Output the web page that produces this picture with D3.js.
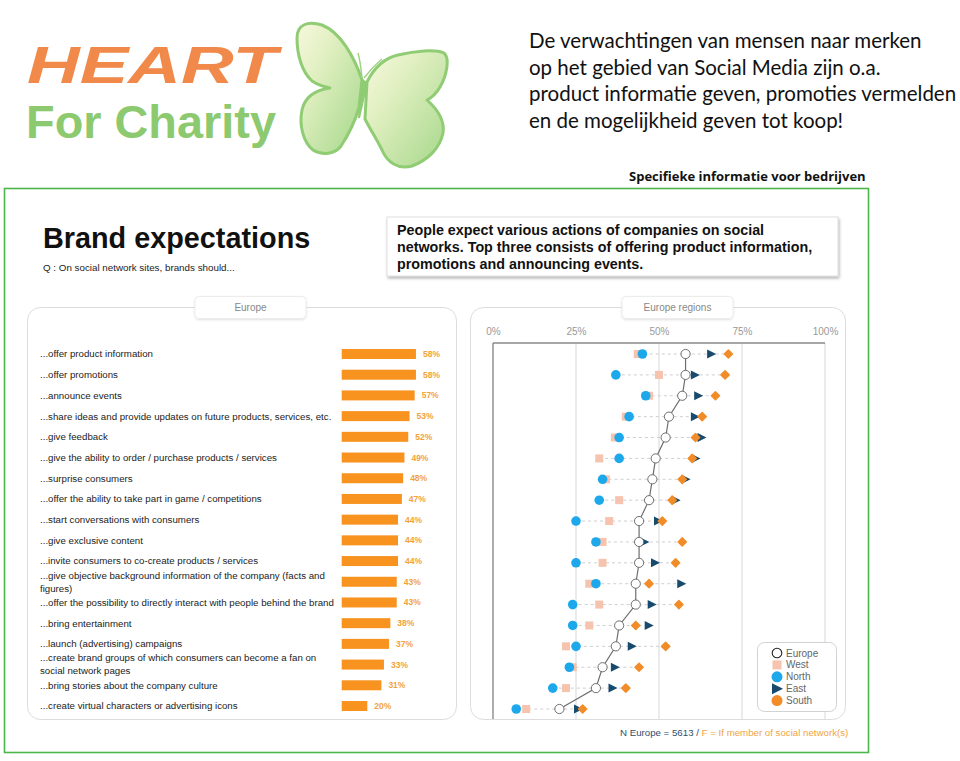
<!DOCTYPE html>
<html><head><meta charset="utf-8">
<script src="https://cdn.jsdelivr.net/npm/d3@7"></script>
<style>body{margin:0;background:#fff}svg{display:block}</style>
</head><body>
<svg id="c" width="960" height="761"></svg>
<script>
const categories = [
  "...offer product information",
  "...offer promotions",
  "...announce events",
  "...share ideas and provide updates on future products, services, etc.",
  "...give feedback",
  "...give the ability to order / purchase products / services",
  "...surprise consumers",
  "...offer the ability to take part in game / competitions",
  "...start conversations with consumers",
  "...give exclusive content",
  "...invite consumers to co-create products / services",
  "...give objective background information of the company (facts and|figures)",
  "...offer the possibility to directly interact with people behind the brand",
  "...bring entertainment",
  "...launch (advertising) campaigns",
  "...create brand groups of which consumers can become a fan on|social network pages",
  "...bring stories about the company culture",
  "...create virtual characters or advertising icons"
];
const europe = [58,58,57,53,52,49,48,47,44,44,44,43,43,38,37,33,31,20];
const west  = [43.6,50,47,40,36.7,32,34,38,35,33,33,29,32,29,22,24,22,10];
const north = [45,37,46,41,38,38,33,32,25,31,25,31,24,24,25,23,18,7];
const east  = [65.7,60.8,61.8,60.8,62.8,61,58,55,49.7,45.6,48.8,56.7,47.8,46.9,41.8,36.7,36,25.6];
const south = [70.9,69.9,67,63,61,60,57,54,51,57,55,47,56,43,52,44,40,27];
const axisTicks = [0,25,50,75,100];
const legendItems = ["Europe","West","North","East","South"];
const headingLines = ["De verwachtingen van mensen naar merken","op het gebied van Social Media zijn o.a.","product informatie geven, promoties vermelden","en de mogelijkheid geven tot koop!"];
const calloutLines = ["People expect various actions of companies on social","networks. Top three consists of offering product information,","promotions and announcing events."];

const svg = d3.select("#c");
const defs = svg.append("defs");
const g1 = defs.append("linearGradient").attr("id","wing").attr("x1","0").attr("y1","0").attr("x2","1").attr("y2","1");
g1.append("stop").attr("offset","0").attr("stop-color","#f7f8de");
g1.append("stop").attr("offset","0.35").attr("stop-color","#e0efc0");
g1.append("stop").attr("offset","1").attr("stop-color","#a4d78a");
const sh = defs.append("filter").attr("id","shadow").attr("x","-5%").attr("y","-10%").attr("width","110%").attr("height","130%");
sh.append("feDropShadow").attr("dx",1).attr("dy",2).attr("stdDeviation",1.6).attr("flood-color","#000").attr("flood-opacity",0.3);
const sh2 = defs.append("filter").attr("id","shadow2").attr("x","-10%").attr("y","-20%").attr("width","120%").attr("height","150%");
sh2.append("feDropShadow").attr("dx",0).attr("dy",1).attr("stdDeviation",1).attr("flood-color","#000").attr("flood-opacity",0.12);

// ---------- Logo ----------
svg.append("text").attr("x",27).attr("y",83).attr("font-family","Liberation Sans").attr("font-weight","bold")
  .attr("font-style","italic").attr("font-size",51).attr("fill","#f0894a")
  .attr("textLength",250).attr("lengthAdjust","spacingAndGlyphs").text("HEART");
svg.append("text").attr("x",26).attr("y",138).attr("font-family","Liberation Sans").attr("font-weight","bold")
  .attr("font-size",46).attr("fill","#8dc96f")
  .attr("textLength",250).attr("lengthAdjust","spacingAndGlyphs").text("For Charity");
const bf = svg.append("g");
bf.append("path").attr("d","M362,80 C354,56 340,32 322,25 C308,21 297,24 297,38 C297,55 302,72 312,81 C318,85 325,87 330,88 C316,90 305,96 302,110 C299,125 303,142 313,150 C323,156 335,154 341,146 C349,134 355,121 359,108 Z")
  .attr("fill","url(#wing)").attr("stroke","#8fcc73").attr("stroke-width",3).attr("stroke-linejoin","round");
bf.append("path").attr("d","M367,82 C374,68 385,58 398,55 C415,51 435,49 444,53 C450,58 447,75 440,87 C436,94 431,98 427,100 C436,108 445,120 443,133 C440,148 428,160 412,166 C398,170 387,162 382,150 C376,138 370,129 365,119 Z")
  .attr("fill","url(#wing)").attr("stroke","#8fcc73").attr("stroke-width",3).attr("stroke-linejoin","round");
bf.append("path").attr("d","M362,80 L359,118 L367,83 Z").attr("fill","#8fcc73").attr("stroke","#8fcc73").attr("stroke-width",2);
bf.append("path").attr("d","M362,78 C361,68 360,60 358,53 M364,78 C370,70 376,64 382,59").attr("fill","none").attr("stroke","#9fd383").attr("stroke-width",1.5);

// ---------- Heading ----------
svg.append("g").selectAll("text").data(headingLines).join("text")
  .attr("x",529).attr("y",(d,i)=>48+i*26.7).attr("font-family","Lato").attr("font-size",20.5).attr("fill","#111").text(d=>d);
svg.append("text").attr("x",629).attr("y",181).attr("font-family","Open Sans").attr("font-weight","bold")
  .attr("font-size",13).attr("fill","#111").text("Specifieke informatie voor bedrijven");

// ---------- Green frame ----------
svg.append("rect").attr("x",4.5).attr("y",188.5).attr("width",864).attr("height",564).attr("fill","none")
  .attr("stroke","#4cb54c").attr("stroke-width",1.6);

// ---------- Title ----------
svg.append("text").attr("x",43).attr("y",248).attr("font-family","Liberation Sans").attr("font-weight","bold")
  .attr("font-size",28.8).attr("fill","#111").text("Brand expectations");
svg.append("text").attr("x",43).attr("y",271).attr("font-family","Liberation Sans")
  .attr("font-size",9.8).attr("fill","#222").text("Q : On social network sites, brands should...");

// Callout
svg.append("rect").attr("x",387).attr("y",217).attr("width",451).attr("height",59).attr("fill","#fff")
  .attr("stroke","#d8d8d8").attr("stroke-width",0.8).attr("filter","url(#shadow)");
svg.append("g").selectAll("text").data(calloutLines).join("text")
  .attr("x",397).attr("y",(d,i)=>235+i*17.2).attr("font-family","Liberation Sans").attr("font-weight","bold")
  .attr("font-size",14.3).attr("fill","#111").text(d=>d);

// ---------- Panels ----------
function panel(x,y,w,h,tx,tw,label){
  svg.append("rect").attr("x",x).attr("y",y).attr("width",w).attr("height",h).attr("rx",13)
    .attr("fill","#fff").attr("stroke","#dcdcdc").attr("stroke-width",1);
  svg.append("rect").attr("x",tx).attr("y",y-11).attr("width",tw).attr("height",22).attr("rx",4)
    .attr("fill","#fff").attr("stroke","#ececec").attr("filter","url(#shadow2)");
  svg.append("text").attr("x",tx+tw/2).attr("y",y+3.5).attr("text-anchor","middle").attr("font-family","Liberation Sans")
    .attr("font-size",10).attr("fill","#888").text(label);
}
panel(27.5,307.5,429,412,195,111,"Europe");
panel(470.5,307.5,375,412,622,111,"Europe regions");

// ---------- Left bar chart ----------
const yL = d3.scalePoint().domain(categories).range([354,706]);
const xL = d3.scaleLinear().domain([0,100]).range([341.7,469.7]);
const left = svg.append("g");
categories.forEach((c,i)=>{
  const lines = c.split("|");
  const y = yL(c);
  lines.forEach((ln,k)=>{
    left.append("text").attr("x",40).attr("y",y + (lines.length>1 ? (k===0?-6.5:6.5) : 0)).attr("dy","0.35em")
      .attr("font-family","Liberation Sans").attr("font-size",9.7).attr("fill","#222").text(ln);
  });
});
left.selectAll("rect.bar").data(europe).join("rect").attr("class","bar")
  .attr("x",xL(0)).attr("y",(d,i)=>yL(categories[i])-5).attr("width",d=>xL(d)-xL(0)).attr("height",10)
  .attr("fill","#f7931e");
left.selectAll("text.val").data(europe).join("text").attr("class","val")
  .attr("x",d=>xL(d)+7).attr("y",(d,i)=>yL(categories[i])).attr("dy","0.35em")
  .attr("font-family","Liberation Sans").attr("font-weight","bold").attr("font-size",8.5).attr("fill","#f2a33a")
  .text(d=>d+"%");

// ---------- Right dot chart ----------
const xR = d3.scaleLinear().domain([0,100]).range([493,825]);
const yR = d3.scalePoint().domain(categories).range([354,709]);
const right = svg.append("g");
right.selectAll("line.grid").data(axisTicks.slice(1)).join("line").attr("class","grid")
  .attr("x1",d=>xR(d)).attr("x2",d=>xR(d)).attr("y1",343).attr("y2",719).attr("stroke","#dedede").attr("stroke-width",1.2);
right.append("line").attr("x1",xR(0)).attr("x2",xR(100)).attr("y1",343).attr("y2",343).attr("stroke","#8a8a8a").attr("stroke-width",1.4);
right.append("line").attr("x1",xR(0)).attr("x2",xR(0)).attr("y1",343).attr("y2",719).attr("stroke","#8a8a8a").attr("stroke-width",1.4);
const ax = right.append("g").attr("transform","translate(0,335)")
  .call(d3.axisTop(xR).tickValues(axisTicks).tickFormat(d=>d+"%").tickSize(0).tickPadding(0));
ax.select(".domain").remove();
ax.selectAll("text").attr("font-family","Liberation Sans").attr("font-size",10).attr("fill","#999").attr("dy","0");

const rows = categories.map((c,i)=>({c,i,vals:[europe[i],west[i],north[i],east[i],south[i]]}));
right.selectAll("line.rng").data(rows).join("line").attr("class","rng")
  .attr("x1",d=>xR(d3.min(d.vals))).attr("x2",d=>xR(d3.max(d.vals)))
  .attr("y1",d=>yR(d.c)).attr("y2",d=>yR(d.c))
  .attr("stroke","#cfcfcf").attr("stroke-width",1).attr("stroke-dasharray","3,3");

const cWest="#f5c3ae", cNorth="#1ea8ec", cEast="#174a6c", cSouth="#f28c28";
right.selectAll("rect.w").data(west).join("rect").attr("class","w")
  .attr("x",d=>xR(d)-4).attr("y",(d,i)=>yR(categories[i])-4).attr("width",8).attr("height",8).attr("fill",cWest);
right.selectAll("circle.n").data(north).join("circle").attr("class","n")
  .attr("cx",d=>xR(d)).attr("cy",(d,i)=>yR(categories[i])).attr("r",4.8).attr("fill",cNorth);
const tri = "M-4,-4.5 L5,0 L-4,4.5 Z";
right.selectAll("path.e").data(east).join("path").attr("class","e")
  .attr("d",tri).attr("transform",(d,i)=>`translate(${xR(d)},${yR(categories[i])})`).attr("fill",cEast);
right.selectAll("path.s").data(south).join("path").attr("class","s")
  .attr("d",d3.symbol().type(d3.symbolDiamond2).size(42)).attr("transform",(d,i)=>`translate(${xR(d)},${yR(categories[i])})`)
  .attr("fill",cSouth).attr("stroke",cSouth).attr("stroke-width",1.5).attr("stroke-linejoin","round");
right.append("path").datum(europe).attr("fill","none").attr("stroke","#6e6e6e").attr("stroke-width",1.2)
  .attr("d",d3.line().x(d=>xR(d)).y((d,i)=>yR(categories[i])));
right.selectAll("circle.eu").data(europe).join("circle").attr("class","eu")
  .attr("cx",d=>xR(d)).attr("cy",(d,i)=>yR(categories[i])).attr("r",4.6).attr("fill","#fff")
  .attr("stroke","#6e6e6e").attr("stroke-width",1);

// legend
const lg = svg.append("g");
lg.append("rect").attr("x",757.5).attr("y",642.5).attr("width",79).attr("height",69).attr("rx",7)
  .attr("fill","#fff").attr("stroke","#d2d2d2");
const ly = i=>653+i*11.9;
legendItems.forEach((t,i)=>{
  const y = ly(i), x = 777;
  if(t==="Europe") lg.append("circle").attr("cx",x).attr("cy",y).attr("r",4.8).attr("fill","#fff").attr("stroke","#222").attr("stroke-width",1.1);
  if(t==="West") lg.append("rect").attr("x",x-4.5).attr("y",y-4.5).attr("width",9).attr("height",9).attr("fill",cWest);
  if(t==="North") lg.append("circle").attr("cx",x).attr("cy",y).attr("r",5.5).attr("fill",cNorth);
  if(t==="East") lg.append("path").attr("d","M-5,-5.5 L6,0 L-5,5.5 Z").attr("transform",`translate(${x},${y})`).attr("fill",cEast);
  if(t==="South") lg.append("circle").attr("cx",x).attr("cy",y).attr("r",5.5).attr("fill",cSouth);
  lg.append("text").attr("x",786).attr("y",y).attr("dy","0.35em").attr("font-family","Liberation Sans")
    .attr("font-size",10).attr("fill","#666").text(t);
});

// footer
const ft = svg.append("text").attr("x",620).attr("y",736).attr("font-family","Liberation Sans").attr("font-size",9.7);
ft.append("tspan").attr("fill","#2f4d6e").text("N Europe = 5613 / ");
ft.append("tspan").attr("fill","#f0a445").text("F = If member of social network(s)");
</script>
</body></html>
